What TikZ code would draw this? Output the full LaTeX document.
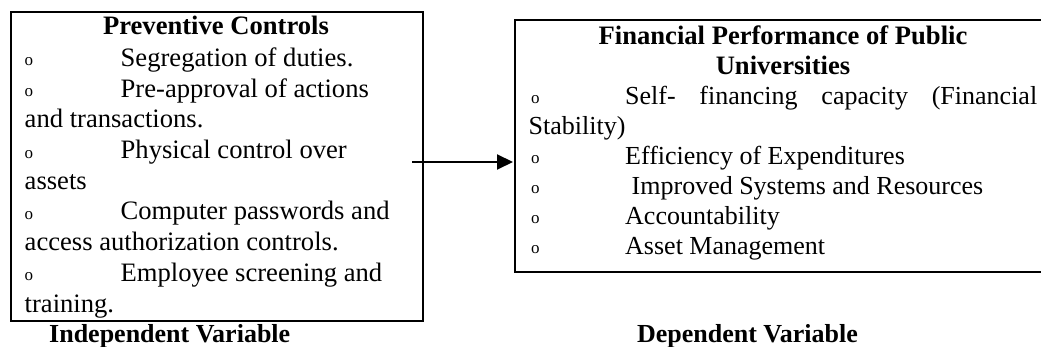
\documentclass[tikz,border=0pt]{standalone}
\usepackage{fontspec}
\setmainfont{Liberation Serif}
\usetikzlibrary{arrows.meta}
\tikzset{
  box/.style={draw, line width=2pt, inner sep=0pt, anchor=north west},
  txt/.style={anchor=base west, inner sep=0pt, font=\fontsize{26.6}{30.7}\selectfont},
  rtxt/.style={anchor=base west, inner sep=0pt, font=\fontsize{26}{30}\selectfont},
  ttl/.style={anchor=base, inner sep=0pt, font=\fontsize{26.6}{30.7}\selectfont\bfseries},
  captxt/.style={anchor=base west, inner sep=0pt, font=\fontsize{26}{30}\selectfont\bfseries},
  bul/.style={anchor=base west, inner sep=0pt, font=\fontsize{17}{17}\selectfont},
  link/.style={line width=2pt, -{Triangle[length=16pt,width=15pt]}}
}
\begin{document}
\begin{tikzpicture}[x=1pt,y=-1pt]
\useasboundingbox (0,0) rectangle (1041,347);
% boxes
\node[box, minimum width=412pt, minimum height=309pt] (lbox) at (10,11) {};
\node[box, minimum width=540pt, minimum height=252pt] (rbox) at (514,19) {};
% left box text
\node[ttl] (lt) at (216,35) {Preventive Controls};
\node[bul] (lb1) at (24.5,66) {o};
\node[txt] (l1) at (120.5,66.5) {Segregation of duties.};
\node[bul] (lb2) at (24.5,96.7) {o};
\node[txt] (l2) at (120.5,97.2) {Pre-approval of actions};
\node[txt] (l2b) at (24.5,127.9) {and transactions.};
\node[bul] (lb3) at (24.5,158.1) {o};
\node[txt] (l3) at (120.5,158.6) {Physical control over};
\node[txt] (l3b) at (24.5,189.3) {assets};
\node[bul] (lb4) at (24.5,219.5) {o};
\node[txt] (l4) at (120.5,220) {Computer passwords and};
\node[txt] (l4b) at (24.5,250.7) {access authorization controls.};
\node[bul] (lb5) at (24.5,280.9) {o};
\node[txt] (l5) at (120.5,281.4) {Employee screening and};
\node[txt] (l5b) at (24.5,312.1) {training.};
% right box text
\node[ttl] (rt1) at (783,44.5) {Financial Performance of Public};
\node[ttl] (rt2) at (783,74.5) {Universities};
\node[bul] (rb1) at (531,104) {o};
\node[rtxt] (r1) at (625,104.4) {\makebox[412pt][s]{Self- financing capacity (Financial}};
\node[rtxt] (r1b) at (528.5,134.4) {Stability)};
\node[bul] (rb2) at (531,164) {o};
\node[rtxt] (r2) at (625,164.3) {Efficiency of Expenditures};
\node[bul] (rb3) at (531,194) {o};
\node[rtxt] (r3) at (625,194.3) {\ Improved Systems and Resources};
\node[bul] (rb4) at (531,224) {o};
\node[rtxt] (r4) at (625,224.2) {Accountability};
\node[bul] (rb5) at (531,254) {o};
\node[rtxt] (r5) at (625,254.2) {Asset Management};
% captions
\node[captxt] (cap1) at (49,342.5) {Independent Variable};
\node[captxt, anchor=base east] (cap2) at (858,342.5) {Dependent Variable};
% arrow
\coordinate (astart) at (412,162);
\coordinate (aend) at ([xshift=-1pt]rbox.west |- astart);
\draw[link] (astart) -- (aend);
\end{tikzpicture}
\end{document}
